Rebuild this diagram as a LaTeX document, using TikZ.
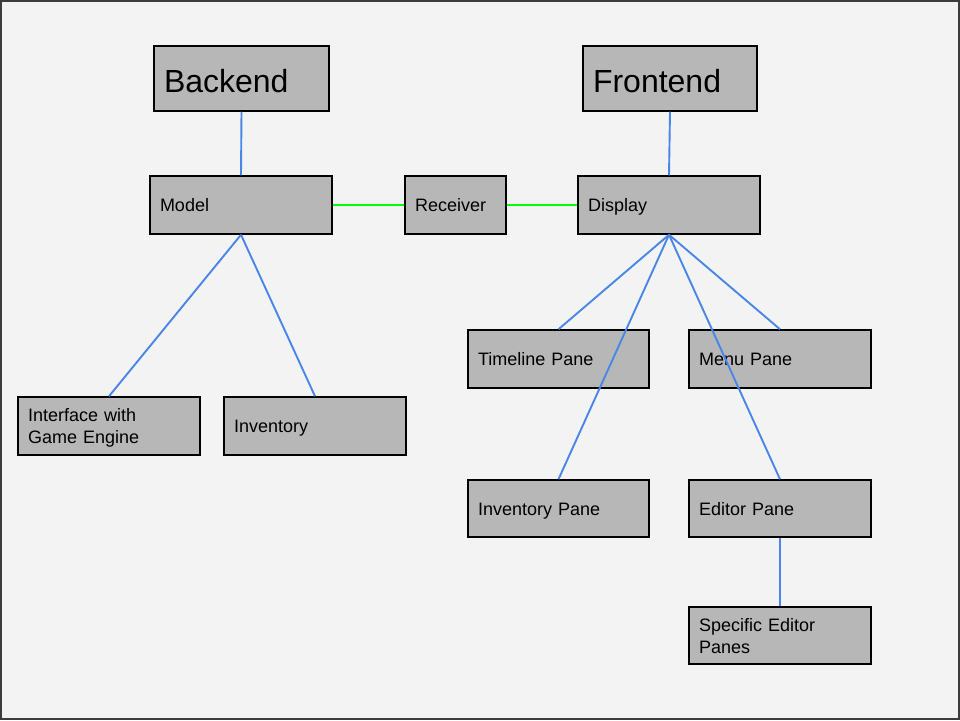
\documentclass[tikz,border=0pt]{standalone}
\usepackage{fontspec}
\setmainfont{Liberation Sans}
\definecolor{bg}{HTML}{F3F3F3}
\definecolor{boxfill}{HTML}{B7B7B7}
\definecolor{linkblue}{HTML}{4A86E8}
\definecolor{linkgreen}{HTML}{00FF00}
\definecolor{frame}{HTML}{3C3C3C}
\begin{document}
\begin{tikzpicture}[x=1pt,y=-1pt,
  box/.style={draw=black, fill=boxfill, line width=1.5pt, rectangle, inner xsep=10pt, inner ysep=0pt, align=left, text height=15pt, text depth=2pt, font=\fontsize{18}{22}\selectfont},
  twoline/.style={text depth=24pt},
  bigbox/.style={box, text height=30pt, text depth=3pt, font=\fontsize{32}{36}\selectfont},
  blue link/.style={draw=linkblue, line width=1.9pt},
  green link/.style={draw=linkgreen, line width=1.9pt}]
\fill[bg] (0,0) rectangle (960,720);
\draw[frame, line width=2pt] (1,1) rectangle (959,719);
\useasboundingbox (0,0) rectangle (960,720);

\node[bigbox, minimum width=175, minimum height=65, text width=155] (backend) at (241.5,78.5) {Backend};
\node[bigbox, minimum width=174, minimum height=65, text width=154] (frontend) at (670,78.5) {Frontend};
\node[box, minimum width=182, minimum height=58, text width=162] (model) at (241,205) {Model};
\node[box, minimum width=101, minimum height=58, text width=81] (receiver) at (455.5,205) {Receiver};
\node[box, minimum width=182, minimum height=58, text width=162] (display) at (669,205) {Display};
\node[box, minimum width=181, minimum height=58, text width=161] (timeline) at (558.5,359) {Timeline Pane};
\node[box, minimum width=182, minimum height=58, text width=162] (menu) at (780,359) {Menu Pane};
\node[box, twoline, minimum width=182, minimum height=58, text width=162] (iface) at (109,426) {Interface with\\Game Engine};
\node[box, minimum width=182, minimum height=58, text width=162] (inventory) at (315,426) {Inventory};
\node[box, minimum width=181, minimum height=57, text width=161] (invpane) at (558.5,508.5) {Inventory Pane};
\node[box, minimum width=182, minimum height=57, text width=162] (editor) at (780,508.5) {Editor Pane};
\node[box, twoline, minimum width=182, minimum height=57, text width=162] (specific) at (780,635.5) {Specific Editor\\Panes};

\draw[blue link] (backend.south) -- (model.north);
\draw[blue link] (frontend.south) -- (display.north);
\draw[green link] (model.east) -- (receiver.west);
\draw[green link] (receiver.east) -- (display.west);
\draw[blue link] (model.south) -- (iface.north);
\draw[blue link] (model.south) -- (inventory.north);
\draw[blue link] (display.south) -- (timeline.north);
\draw[blue link] (display.south) -- (invpane.north);
\draw[blue link] (display.south) -- (editor.north);
\draw[blue link] (display.south) -- (menu.north);
\draw[blue link] (editor.south) -- (specific.north);
\end{tikzpicture}
\end{document}
